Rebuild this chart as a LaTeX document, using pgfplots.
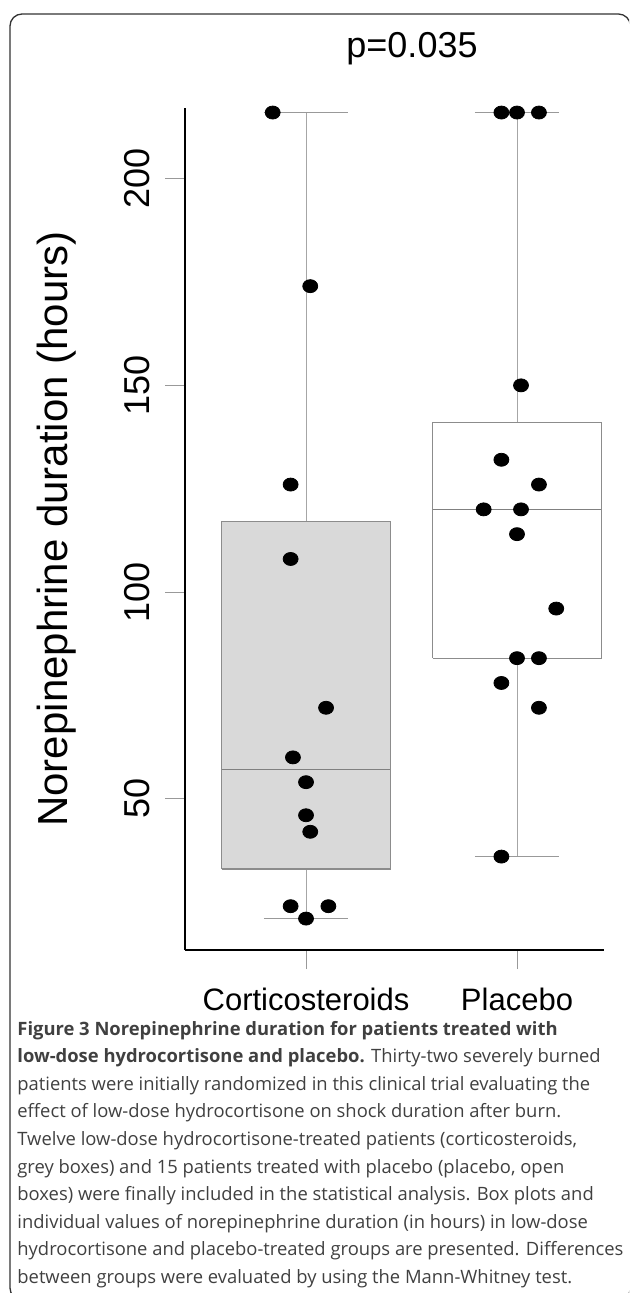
\documentclass[border=0pt]{standalone}
\usepackage{pgfplots}
\pgfplotsset{compat=1.18}
\usepackage{fontspec}
\setmainfont{Liberation Sans}
\newfontfamily\capfont{Open Sans}
\begin{document}
\begin{tikzpicture}
\useasboundingbox (0,0) rectangle (314.5pt,-646.5pt);
\clip (0,0) rectangle (314.5pt,-646.5pt);
\draw[line width=0.65pt, black!80, rounded corners=6pt] (5pt,-7pt) rectangle (315.2pt,-650pt);
\begin{axis}[
  at={(92.25pt,-475pt)}, anchor=south west,
  scale only axis, width=209.5pt, height=421pt,
  xmin=0.424, xmax=2.41, ymin=13.4, ymax=217.1,
  axis lines=left, axis line style={-, line width=1pt, black},
  clip=false,
  xtick={1,2}, xticklabels={Corticosteroids,Placebo},
  ytick={50,100,150,200},
  tick align=outside, major tick length=9.5pt,
  tick style={black!40, line width=0.5pt},
  /pgf/number format/assume math mode=true,
  xticklabel style={anchor=base, yshift=-20.5pt, inner sep=0pt, font=\fontsize{15.5pt}{18pt}\selectfont},
  yticklabel style={xshift=-7.75pt, rotate=90, anchor=base, inner sep=0pt, font=\fontsize{18pt}{20pt}\selectfont},
  ylabel={Norepinephrine duration (hours)},
  every axis y label/.style={at={(axis description cs:-0.2804,0.5)}, rotate=90, anchor=base, inner sep=0pt, font=\fontsize{21pt}{24pt}\selectfont},
]
% Corticosteroids box plot
\addplot[draw=black!35, line width=0.5pt] coordinates {(1,21) (1,33)};
\addplot[draw=black!35, line width=0.5pt] coordinates {(1,117) (1,216)};
\addplot[draw=black!40, line width=0.6pt] coordinates {(0.8,21) (1.2,21)};
\addplot[draw=black!40, line width=0.6pt] coordinates {(0.8,216) (1.2,216)};
\addplot[draw=black!45, fill=black!15, line width=0.6pt] coordinates {(0.6,33) (1.4,33) (1.4,117) (0.6,117) (0.6,33)};
\addplot[draw=black!50, line width=0.6pt] coordinates {(0.6,57) (1.4,57)};
% Placebo box plot
\addplot[draw=black!35, line width=0.5pt] coordinates {(2,36) (2,84)};
\addplot[draw=black!35, line width=0.5pt] coordinates {(2,141) (2,216)};
\addplot[draw=black!40, line width=0.6pt] coordinates {(1.8,36) (2.2,36)};
\addplot[draw=black!40, line width=0.6pt] coordinates {(1.8,216) (2.2,216)};
\addplot[draw=black!45, fill=white, line width=0.6pt] coordinates {(1.6,84) (2.4,84) (2.4,141) (1.6,141) (1.6,84)};
\addplot[draw=black!50, line width=0.6pt] coordinates {(1.6,120) (2.4,120)};
% individual values
\addplot[only marks, mark=*, mark size=3.25pt, mark options={fill=black, draw=black, xscale=1.15}] coordinates {
(0.842,216) (1.020,174) (0.927,126) (0.927,108) (1.095,72) (0.938,60) (1.0,54) (1.0,46) (1.020,42) (0.927,24) (1.106,24) (1.0,21)
};
\addplot[only marks, mark=*, mark size=3.25pt, mark options={fill=black, draw=black, xscale=1.15}] coordinates {
(1.926,216) (2.0,216) (2.104,216) (2.019,150) (1.926,132) (2.104,126) (1.842,120) (2.019,120) (2.0,114) (2.186,96) (2.0,84) (2.104,84) (1.926,78) (2.104,72) (1.926,36)
};
\end{axis}
\node[anchor=base, inner sep=0pt, font=\fontsize{18pt}{20pt}\selectfont] at (206pt,-29pt) {p=0.035};
\begin{scope}[every node/.style={anchor=base west, inner sep=0pt, font=\capfont\fontsize{9.2pt}{13.8pt}\selectfont, text=black!75}]
\node at (8.5pt,-517.5pt) {\textbf{Figure 3 Norepinephrine duration for patients treated with}};
\node at (8.5pt,-531.3pt) {\textbf{low-dose hydrocortisone and placebo.} Thirty-two severely burned};
\node at (8.5pt,-545.1pt) {patients were initially randomized in this clinical trial evaluating the};
\node at (8.5pt,-558.9pt) {effect of low-dose hydrocortisone on shock duration after burn.};
\node at (8.5pt,-572.7pt) {Twelve low-dose hydrocortisone-treated patients (corticosteroids,};
\node at (8.5pt,-586.5pt) {grey boxes) and 15 patients treated with placebo (placebo, open};
\node at (8.5pt,-600.3pt) {boxes) were finally included in the statistical analysis. Box plots and};
\node at (8.5pt,-614.1pt) {individual values of norepinephrine duration (in hours) in low-dose};
\node at (8.5pt,-627.9pt) {hydrocortisone and placebo-treated groups are presented. Differences};
\node at (8.5pt,-641.7pt) {between groups were evaluated by using the Mann-Whitney test.};
\end{scope}
\end{tikzpicture}
\end{document}
